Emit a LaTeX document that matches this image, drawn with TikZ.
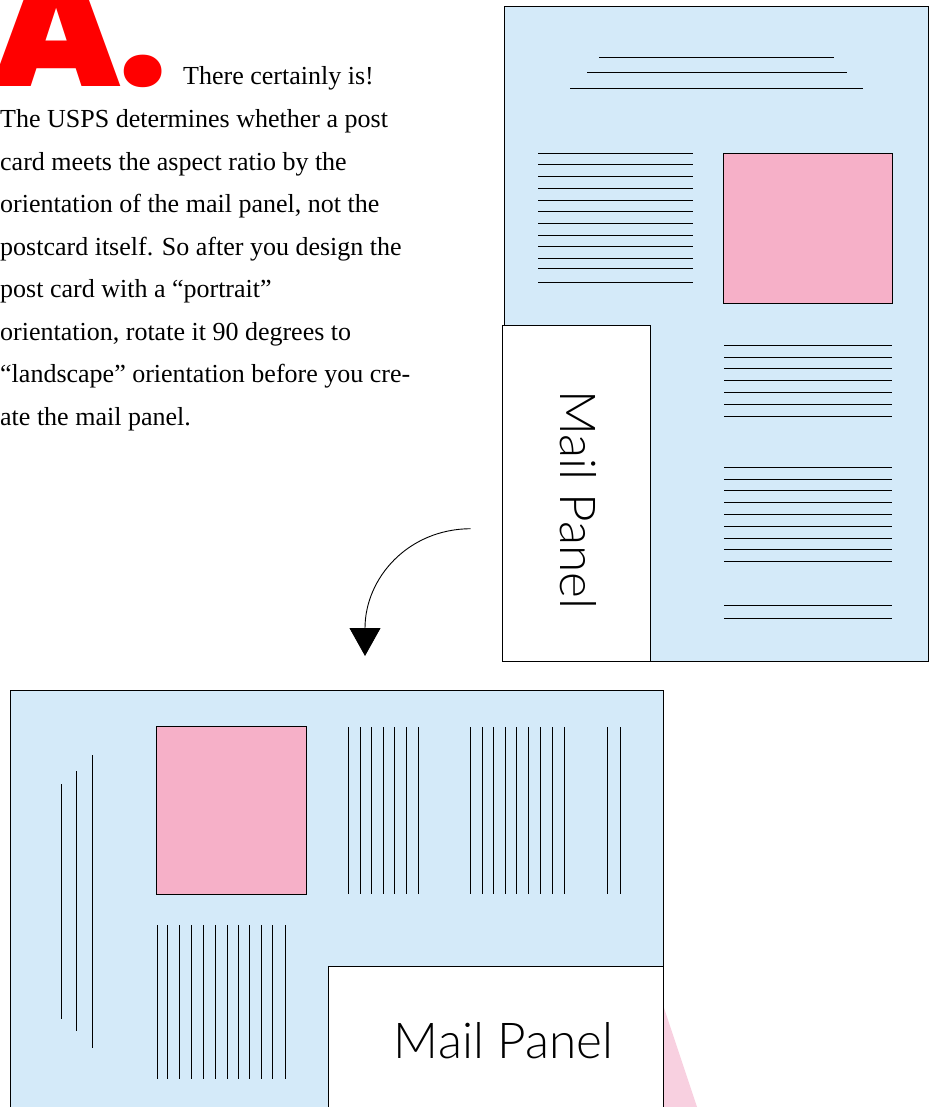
\documentclass[tikz,border=0pt]{standalone}
\usepackage{fontspec}
\setmainfont{Liberation Serif}
\newfontfamily\panelfont{Lato}[UprightFont=* Light]
\newfontfamily\headfont{Poppins}[UprightFont=* Black]
\usetikzlibrary{arrows.meta}
\definecolor{cardblue}{RGB}{212,234,249}
\definecolor{photopink}{RGB}{246,176,200}
\definecolor{softpink}{RGB}{248,208,224}
\definecolor{answerred}{RGB}{255,0,0}
\tikzset{
  card/.style={draw=black, line width=0.9pt, fill=cardblue},
  photo/.style={draw=black, line width=0.9pt, fill=photopink},
  panel/.style={draw=black, line width=0.9pt, fill=white},
  textline/.style={draw=black, line width=0.9pt},
  paneltext/.style={font=\panelfont\fontsize{49.5}{56}\selectfont, inner sep=0pt},
  bodytext/.style={font=\fontsize{26}{42.5}\selectfont, inner sep=0pt, align=left}
}
\begin{document}
\begin{tikzpicture}[x=1pt,y=-1pt]
\useasboundingbox (0,0) rectangle (934,1107);
\begin{scope}
\clip (0,0) rectangle (934,1107);

% ---------- answer heading and paragraph ----------
\node[inner sep=0pt, anchor=base west, text=answerred,
      font=\headfont\fontsize{166}{166}\selectfont] (answer) at (-8,86.5)
  {A\hspace{-1pt}\fontsize{148}{148}\selectfont.};
\node[bodytext, anchor=base west] (lead) at (183,85) {There certainly is!};
% multi-line node: its base anchor sits on the last line
\node[bodytext, anchor=base west] (body) at (0,425)
  {The USPS determines whether a post\\
   card meets the aspect ratio by the\\
   orientation of the mail panel, not the\\
   postcard itself. So after you design the\\
   post card with a ``portrait''\\
   orientation, rotate it 90 degrees to\\
   ``landscape'' orientation before you cre-\\
   ate the mail panel.};

% ---------- portrait postcard ----------
\draw[card] (504,6) rectangle (928,661);
\draw[textline] (599,57.5) -- (834,57.5);
\draw[textline] (587,72.5) -- (847,72.5);
\draw[textline] (570,88.5) -- (863,88.5);
\foreach \y in {153.7,164.3,176,188,200,211.7,223.7,235.3,246.3,258,268.7,282}
  \draw[textline] (538,\y) -- (693,\y);
\draw[photo] (723.7,153.3) rectangle (892,303.3);
\foreach \y in {345.7,357.7,368.3,380.3,392,404.3,416,
                467.7,479.7,490.3,502.3,514,526,538,549.7,561.3,
                605.3,618}
  \draw[textline] (724,\y) -- (891.7,\y);
\draw[panel] (502.7,325.3) rectangle (650.7,661);
\node[paneltext, rotate=-90, anchor=base] (portraitpanel) at (560,500) {Mail Panel};

% ---------- rotation arrow ----------
\coordinate (turnfrom) at (470.7,528.7);
\coordinate (turnto) at (365,656);
\draw[line width=0.9pt, -{Triangle[width=31pt,length=28pt]}]
  (turnfrom) .. controls (408,529) and (365,578) .. (turnto);

% ---------- landscape postcard ----------
\fill[softpink] (663,1005) -- (697,1107) -- (663,1107) -- cycle;
\draw[card] (10,690.7) rectangle (663,1120);
\draw[photo] (156.7,726.7) rectangle (306.7,894);
\draw[textline] (61,784.3) -- (61,1019);
\draw[textline] (76.3,771) -- (76.3,1030.7);
\draw[textline] (92.3,755.3) -- (92.3,1047.7);
\foreach \x in {157,167.7,179.7,191.3,203.3,215,227,238.7,249.7,261.3,272.3,285}
  \draw[textline] (\x,925) -- (\x,1079);
\foreach \x in {348.7,360.3,371.3,383,394.7,406.7,418.7,
                470.3,482.3,493,505,516.7,528.7,540.3,552.3,564.3,
                607.3,620.7}
  \draw[textline] (\x,727.3) -- (\x,893.7);
\draw[panel] (328.3,966.7) rectangle (663,1120);
\node[paneltext, anchor=base] (landscapepanel) at (503.5,1058) {Mail Panel};
\end{scope}
\end{tikzpicture}
\end{document}
